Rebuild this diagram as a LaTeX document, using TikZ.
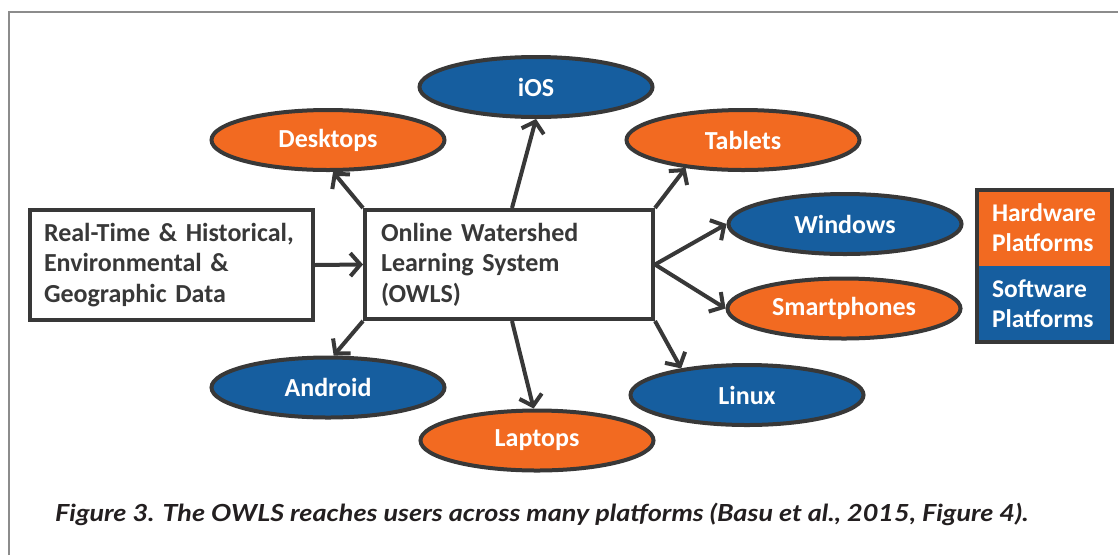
\documentclass[tikz,border=0pt]{standalone}
\usepackage{fontspec}
\setmainfont{Carlito}
\newfontfamily\capfont{Lato}
\usetikzlibrary{shapes.geometric,arrows.meta,calc}
\definecolor{owlorange}{HTML}{F26A21}
\definecolor{owlblue}{HTML}{165E9F}
\definecolor{owlgray}{HTML}{383838}
\definecolor{framegray}{HTML}{8C8C8C}
\definecolor{captext}{HTML}{231F20}
\begin{document}
\begin{tikzpicture}[x=1pt,y=-1pt,
  plat/.style={ellipse,draw=owlgray,line width=4pt,minimum width=233pt,minimum height=60pt,inner sep=0pt,text=white,font=\fontsize{26}{30}\selectfont\bfseries},
  hw/.style={plat,fill=owlorange},
  sw/.style={plat,fill=owlblue},
  infobox/.style={draw=owlgray,line width=4pt,fill=white,text=owlgray,align=left,font=\fontsize{26}{30.5}\selectfont\bfseries,inner ysep=0pt},
  legpart/.style={minimum width=135pt,minimum height=76pt,inner xsep=15pt,inner ysep=0pt,text width=105pt,align=left,text=white,font=\fontsize{25.5}{30}\selectfont\bfseries},
  conn/.style={draw=owlgray,line width=4pt,-{Straight Barb[length=10pt,width=23pt]}}
]
\useasboundingbox (0,0) rectangle (1118,555);
\draw[framegray,line width=2pt] (9,555) -- (9,12) -- (1118,12);

\node[infobox,minimum width=283pt,minimum height=110pt,inner xsep=14pt,text width=255pt] (src) at (171.5,265) {Real-Time \& Historical,\\Environmental \&\\Geographic Data};
\node[infobox,minimum width=288pt,minimum height=109pt,inner xsep=16pt,text width=256pt] (owls) at (509,264.5) {Online Watershed\\Learning System\\(OWLS)};

\node[sw] (ios) at (536,87) {iOS};
\node[hw] (desk) at (328,140) {Desktops};
\node[hw] (tab) at (743,140) {Tablets};
\node[sw] (win) at (845,224) {Windows};
\node[hw] (smart) at (844,308.5) {Smartphones};
\node[sw] (linux) at (747,395) {Linux};
\node[hw] (lap) at (537,440.5) {Laptops};
\node[sw] (andr) at (328,387.5) {Android};

\draw[conn] (src.east) -- (owls.west);
\draw[conn] (owls.north west) -- (desk.-81);
\draw[conn] ([xshift=3pt]owls.north) -- (ios.south);
\draw[conn] (owls.north east) -- (tab.-154);
\draw[conn] (owls.east) -- (win.west);
\draw[conn] (owls.east) -- (smart.west);
\draw[conn] (owls.south east) -- (linux.158);
\draw[conn] ([xshift=3pt]owls.south) -- (lap.96);
\draw[conn] (owls.south west) -- (andr.80);

\node[legpart,fill=owlorange] (hwleg) at (1044.5,228) {Hardware\\Platforms};
\node[legpart,fill=owlblue] (swleg) at (1044.5,304) {Software\\Platforms};
\draw[owlgray,line width=4pt] (hwleg.north west) rectangle (swleg.south east);

\node[anchor=base west,text=captext,inner sep=0pt,font=\capfont\fontsize{23.5}{28}\selectfont\bfseries\itshape] (cap) at (55,521) {\scalebox{1.15}[1]{Figure 3. The OWLS reaches users across many platforms (Basu et al., 2015, Figure 4).}};
\end{tikzpicture}
\end{document}
